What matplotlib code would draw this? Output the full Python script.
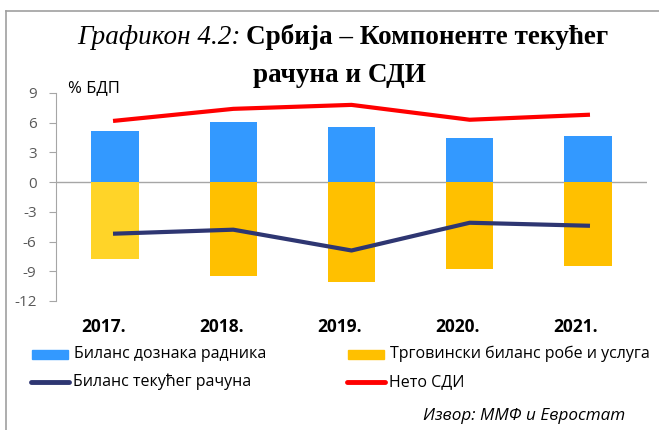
import numpy as np
import matplotlib.pyplot as plt
from matplotlib.patches import Rectangle
from matplotlib.lines import Line2D

years = ['2017.', '2018.', '2019.', '2020.', '2021.']
remittances = [5.15, 6.05, 5.55, 4.5, 4.7]
trade = [-7.8, -9.5, -10.1, -8.8, -8.5]
current_account = [-5.2, -4.8, -6.9, -4.1, -4.4]
net_fdi = [6.2, 7.4, 7.8, 6.3, 6.8]
yticks = [9, 6, 3, 0, -3, -6, -9, -12]

W, H = 659, 430
fig = plt.figure(figsize=(W / 100, H / 100), dpi=100)
sans = 'Open Sans'
serif = 'Liberation Serif'

# frame round the picture
fig.add_artist(Line2D([6 / W, 6 / W], [0, 1 - 11 / H], color='#a0a0a0', lw=1.2))
fig.add_artist(Line2D([6 / W, 1], [1 - 11 / H, 1 - 11 / H], color='#a0a0a0', lw=1.2))

ax = fig.add_axes([56 / W, 1 - 301 / H, (647 - 56) / W, (301 - 93) / H])
x = np.arange(len(years))
trade_colors = ['#FFD428'] + ['#FFC000'] * (len(years) - 1)
ax.bar(x, remittances, width=0.4, color='#3399FF', zorder=2)
ax.bar(x, trade, width=0.4, color=trade_colors, zorder=2)
ax.plot(x, current_account, color='#2E3672', lw=3, zorder=3)
ax.plot(x, net_fdi, color='#FF0000', lw=3, zorder=3)
ax.axhline(0, color='#a6a6a6', lw=1, zorder=1)

ax.set_xlim(-0.5, 4.5)
ax.set_ylim(-12, 9)
ax.set_yticks(yticks)
ax.set_yticklabels([str(v) for v in yticks], fontsize=11, color='#595959', family=sans)
ax.set_xticks(x - 0.1)
ax.set_xticklabels(years, fontsize=12.5, fontweight='bold', family=sans)
ax.tick_params(axis='x', length=0, pad=12)
ax.tick_params(axis='y', length=5, color='#a6a6a6', direction='out', pad=9)
for s in ['top', 'right', 'bottom']:
    ax.spines[s].set_visible(False)
ax.spines['left'].set_color('#a6a6a6')

fig.text(68 / W, 1 - 88 / H, '% БДП', fontsize=12, family=sans, va='center')

# title: italic part, then bold part right after it
fig.canvas.draw()
r = fig.canvas.get_renderer()
t1 = fig.text(77 / W, 1 - 37 / H, 'Графикон 4.2:', fontsize=19.5, family=serif,
              style='italic', va='center')
ext = t1.get_window_extent(r)
fig.text((ext.x1 + 6) / W, 1 - 37 / H, 'Србија – Компоненте текућег', fontsize=19.5,
         family=serif, fontweight='bold', va='center')
fig.text(339 / W, 1 - 75 / H, 'рачуна и СДИ', fontsize=19.5, family=serif,
         fontweight='bold', va='center', ha='center')

# legend
legend_items = [
    (32, 354, 'bar', '#3399FF', 'Биланс дознака радника'),
    (348, 354, 'bar', '#FFC000', 'Трговински биланс робе и услуга'),
    (31, 382, 'line', '#2E3672', 'Биланс текућег рачуна'),
    (347, 382, 'line', '#FF0000', 'Нето СДИ'),
]
for lx, ly, kind, col, label in legend_items:
    if kind == 'bar':
        fig.add_artist(Rectangle((lx / W, 1 - (ly + 4.5) / H), 36 / W, 9 / H,
                                 color=col, transform=fig.transFigure))
    else:
        fig.add_artist(Line2D([lx / W, (lx + 38) / W], [1 - ly / H, 1 - ly / H],
                              color=col, lw=3.5, solid_capstyle='round'))
    fig.text((lx + 42) / W, 1 - ly / H, label, fontsize=11.5, family=sans, va='center')

fig.text(625 / W, 1 - 416 / H, 'Извор: ММФ и Евростат', fontsize=12.3, family=sans,
         style='italic', ha='right', va='center')

fig.savefig('out.png', dpi=100)
